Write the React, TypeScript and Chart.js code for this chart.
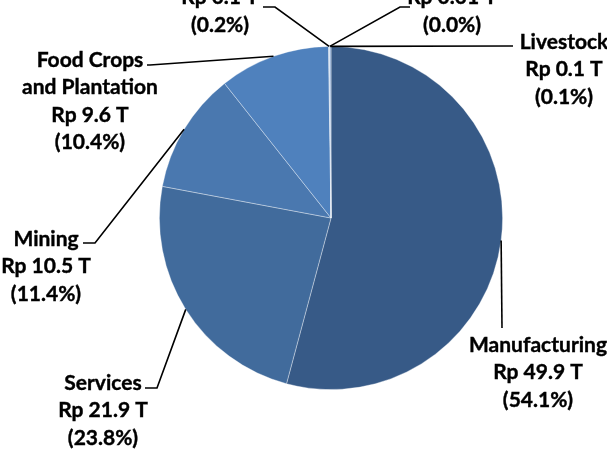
import React, { useEffect, useRef } from "react";
import { Chart, registerables } from "chart.js";

Chart.register(...registerables);

const categories = [
  "Manufacturing",
  "Services",
  "Mining",
  "Food Crops\nand Plantation",
  "Fisheries",
  "Forestry",
  "Livestock",
];
const valuesT = [49.9, 21.9, 10.5, 9.6, 0.1, 0.01, 0.1];
const percents = [54.1, 23.8, 11.4, 10.4, 0.2, 0.0, 0.1];
const sliceColors = [
  "#375A87",
  "#416B9C",
  "#4A78AF",
  "#4F81BD",
  "#95B3D7",
  "#B9CDE5",
  "#7F9FCB",
];

// label layout: text centre x, first-line centre y, leader path after arc anchor
const labelLayout = [
  { x: 538, y: 345, path: [[502, 328]] },
  { x: 103, y: 383, path: [[157, 388], [145, 388]] },
  { x: 46, y: 239, path: [[95, 243], [83, 243]] },
  { x: 90, y: 60, path: [[150, 65], [147, 65]] },
  { x: 220, y: -30, path: [[275, 7], [263, 7]] },
  { x: 452, y: -30, path: [[400, 7], [410, 7]] },
  { x: 564, y: 42, path: [[513, 46]] },
];

const LINE_H = 27.5;
const FONT = "bold 21px Lato";

function fmtValue(v: number) {
  return "Rp " + (v < 0.05 ? v.toFixed(2) : v.toFixed(1)) + " T";
}

const labelPlugin = {
  id: "sliceLabels",
  afterDraw(chart: any) {
    const ctx = chart.ctx;
    const meta = chart.getDatasetMeta(0);
    ctx.save();
    meta.data.forEach((arc: any, i: number) => {
      const p = arc.getProps(["x", "y", "startAngle", "endAngle", "outerRadius"], true);
      const mid = (p.startAngle + p.endAngle) / 2;
      const ax = p.x + Math.cos(mid) * p.outerRadius;
      const ay = p.y + Math.sin(mid) * p.outerRadius;
      const lay = labelLayout[i];
      ctx.beginPath();
      ctx.moveTo(ax, ay);
      lay.path.forEach(([px, py]) => ctx.lineTo(px, py));
      ctx.strokeStyle = "#000";
      ctx.lineWidth = 1.6;
      ctx.stroke();
      const lines = [
        ...categories[i].split("\n"),
        fmtValue(valuesT[i]),
        "(" + percents[i].toFixed(1) + "%)",
      ];
      ctx.font = FONT;
      ctx.fillStyle = "#000";
      ctx.strokeStyle = "#000";
      ctx.lineWidth = 0.4;
      ctx.textAlign = "center";
      ctx.textBaseline = "middle";
      lines.forEach((t, k) => {
        ctx.fillText(t, lay.x, lay.y + k * LINE_H);
        ctx.strokeText(t, lay.x, lay.y + k * LINE_H);
      });
    });
    ctx.restore();
  },
};

export default function App() {
  const ref = useRef<HTMLCanvasElement | null>(null);
  useEffect(() => {
    if (!ref.current) return;
    const chart = new Chart(ref.current, {
      type: "pie",
      data: {
        labels: categories,
        datasets: [
          {
            data: valuesT,
            backgroundColor: sliceColors,
            borderColor: "rgba(255,255,255,0.45)",
            borderWidth: 0.8,
          },
        ],
      },
      options: {
        responsive: false,
        animation: false,
        layout: { padding: { left: 159, right: 104, top: 46, bottom: 65 } },
        plugins: {
          legend: { display: false },
          tooltip: { enabled: false },
        },
      },
      plugins: [labelPlugin],
    });
    return () => chart.destroy();
  }, []);
  return (
    <div style={{ position: "fixed", left: 0, top: 0, width: 607, height: 455, background: "#fff" }}>
      <canvas ref={ref} width={607} height={455} style={{ display: "block" }} />
    </div>
  );
}
